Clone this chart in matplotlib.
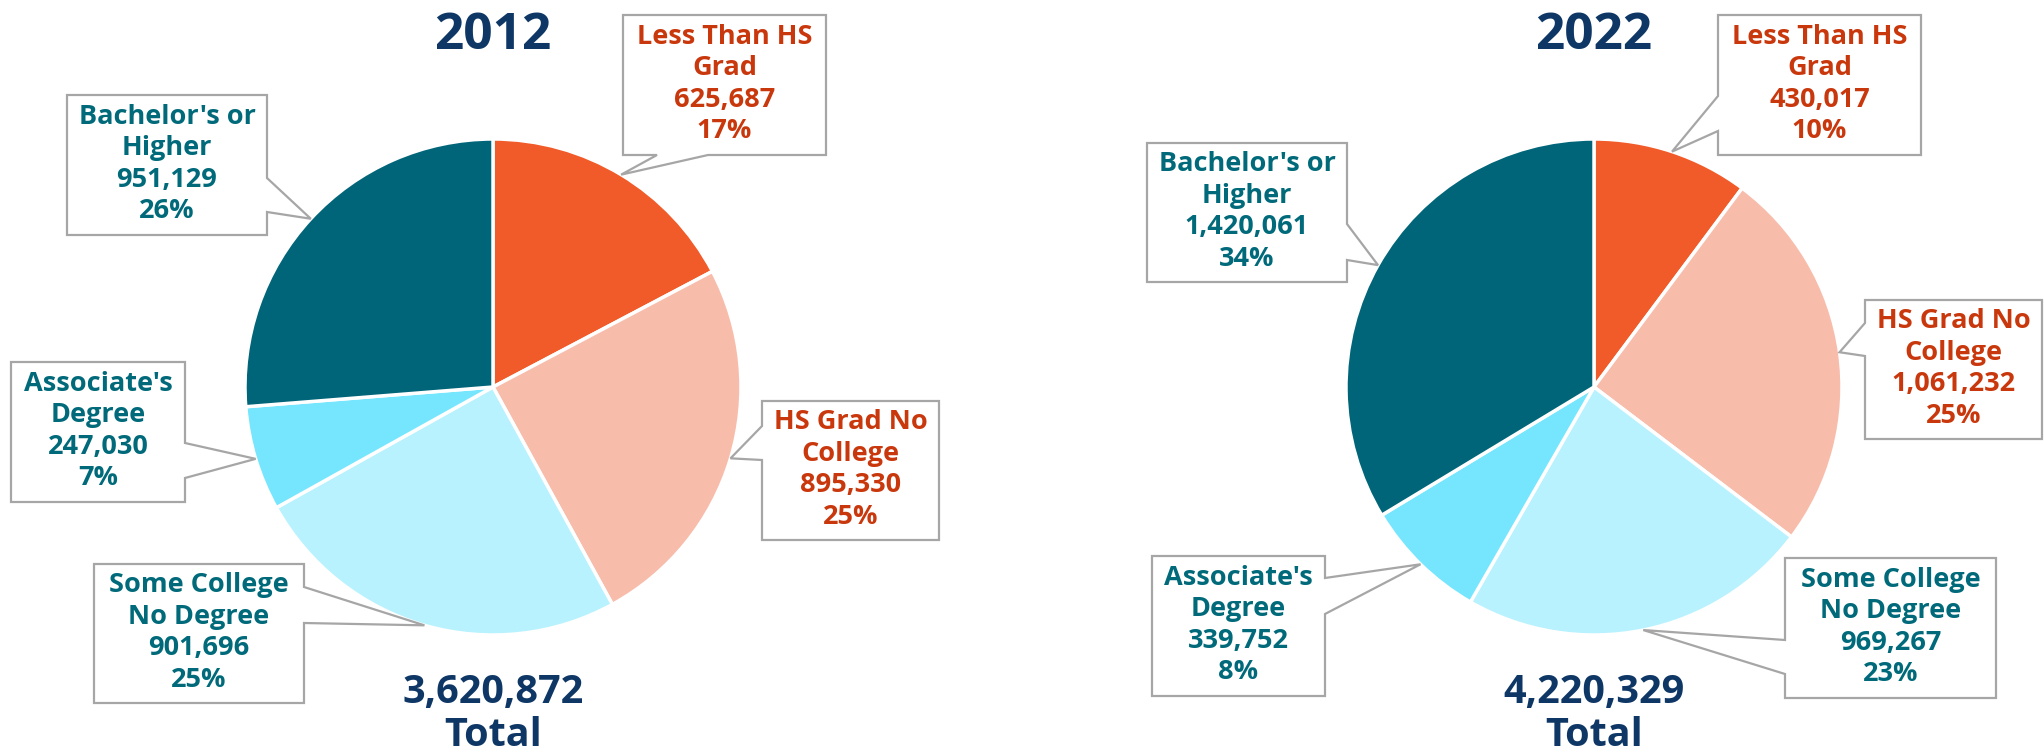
import math
import matplotlib
matplotlib.use("Agg")
import matplotlib.pyplot as plt
from matplotlib.patches import Polygon

# ---------------- data ----------------
categories = ["Less Than HS Grad", "HS Grad No College", "Some College No Degree",
              "Associate's Degree", "Bachelor's or Higher"]
label_lines = [["Less Than HS", "Grad"], ["HS Grad No", "College"],
               ["Some College", "No Degree"], ["Associate's", "Degree"],
               ["Bachelor's or", "Higher"]]
years = ["2012", "2022"]
values_2012 = [625687, 895330, 901696, 247030, 951129]
values_2022 = [430017, 1061232, 969267, 339752, 1420061]

# ---------------- style ----------------
W, H = 2044, 755
slice_colors = ["#F15A29", "#F8BCAB", "#B8F2FE", "#75E6FD", "#006579"]
text_colors = ["#C9380D", "#C9380D", "#006A7A", "#006A7A", "#006A7A"]
navy = "#0E3765"
border = "#A6A6A6"
FONT = ["Open Sans", "DejaVu Sans"]

centers = [(493, 387), (1594, 387)]
radius = 248
# box layout: (x0, y0, x1, y1) in pixels (top origin), pointer side, pointer base span
boxes = [
    [((623, 15, 826, 155), "bottom", (657, 708)),
     ((762, 401, 939, 540), "left", (426, 460)),
     ((94, 564, 304, 703), "right", (587, 623)),
     ((11, 362, 185, 502), "right", (443, 478)),
     ((67, 95, 267, 235), "right", (178, 212))],
    [((1718, 15, 1921, 155), "left", (96, 131)),
     ((1865, 300, 2042, 439), "left", (323, 356)),
     ((1785, 558, 1996, 698), "left", (640, 674)),
     ((1152, 556, 1325, 696), "right", (578, 614)),
     ((1147, 143, 1347, 282), "right", (224, 260))],
]

fig = plt.figure(figsize=(W / 100, H / 100), dpi=100)
ax = fig.add_axes([0, 0, 1, 1])


def Y(y):
    return H - y


for ci, (year, vals) in enumerate(zip(years, [values_2012, values_2022])):
    cx, cy = centers[ci]
    wedges, _ = ax.pie(vals, colors=slice_colors, startangle=90, counterclock=False,
                       center=(cx, Y(cy)), radius=radius,
                       wedgeprops=dict(edgecolor="white", linewidth=2.5))
    total = sum(vals)
    for i, w in enumerate(wedges):
        mid = math.radians((w.theta1 + w.theta2) / 2)
        tip = (cx + radius * math.cos(mid), Y(cy) + radius * math.sin(mid))
        (x0, y0, x1, y1), side, (a, b) = boxes[ci][i]
        TL, TR, BR, BL = (x0, Y(y0)), (x1, Y(y0)), (x1, Y(y1)), (x0, Y(y1))
        if side == "top":
            pts = [TL, (a, Y(y0)), tip, (b, Y(y0)), TR, BR, BL]
        elif side == "right":
            pts = [TL, TR, (x1, Y(a)), tip, (x1, Y(b)), BR, BL]
        elif side == "bottom":
            pts = [TL, TR, BR, (b, Y(y1)), tip, (a, Y(y1)), BL]
        else:
            pts = [TL, TR, BR, BL, (x0, Y(b)), tip, (x0, Y(a))]
        ax.add_patch(Polygon(pts, closed=True, facecolor="white", edgecolor=border,
                             linewidth=1.6, zorder=5, joinstyle="miter"))
        pct = round(vals[i] / total * 100)
        txt = "\n".join(label_lines[i] + [f"{vals[i]:,}", f"{pct}%"])
        ax.text((x0 + x1) / 2, Y((y0 + y1) / 2 - 1), txt, ha="center", va="center",
                fontsize=19.5, fontweight="bold", color=text_colors[i],
                family=FONT, linespacing=1.28, zorder=6)
    ax.text(cx, Y(36), year, ha="center", va="center", fontsize=37,
            fontweight="bold", color=navy, family=FONT)
    ax.text(cx, Y(692), f"{total:,}", ha="center", va="center", fontsize=28.5,
            fontweight="bold", color=navy, family=FONT)
    ax.text(cx, Y(735), "Total", ha="center", va="center", fontsize=28.5,
            fontweight="bold", color=navy, family=FONT)

ax.set_xlim(0, W)
ax.set_ylim(0, H)
ax.set_aspect("equal")
ax.axis("off")
fig.savefig("out.png", dpi=100, facecolor="white")
